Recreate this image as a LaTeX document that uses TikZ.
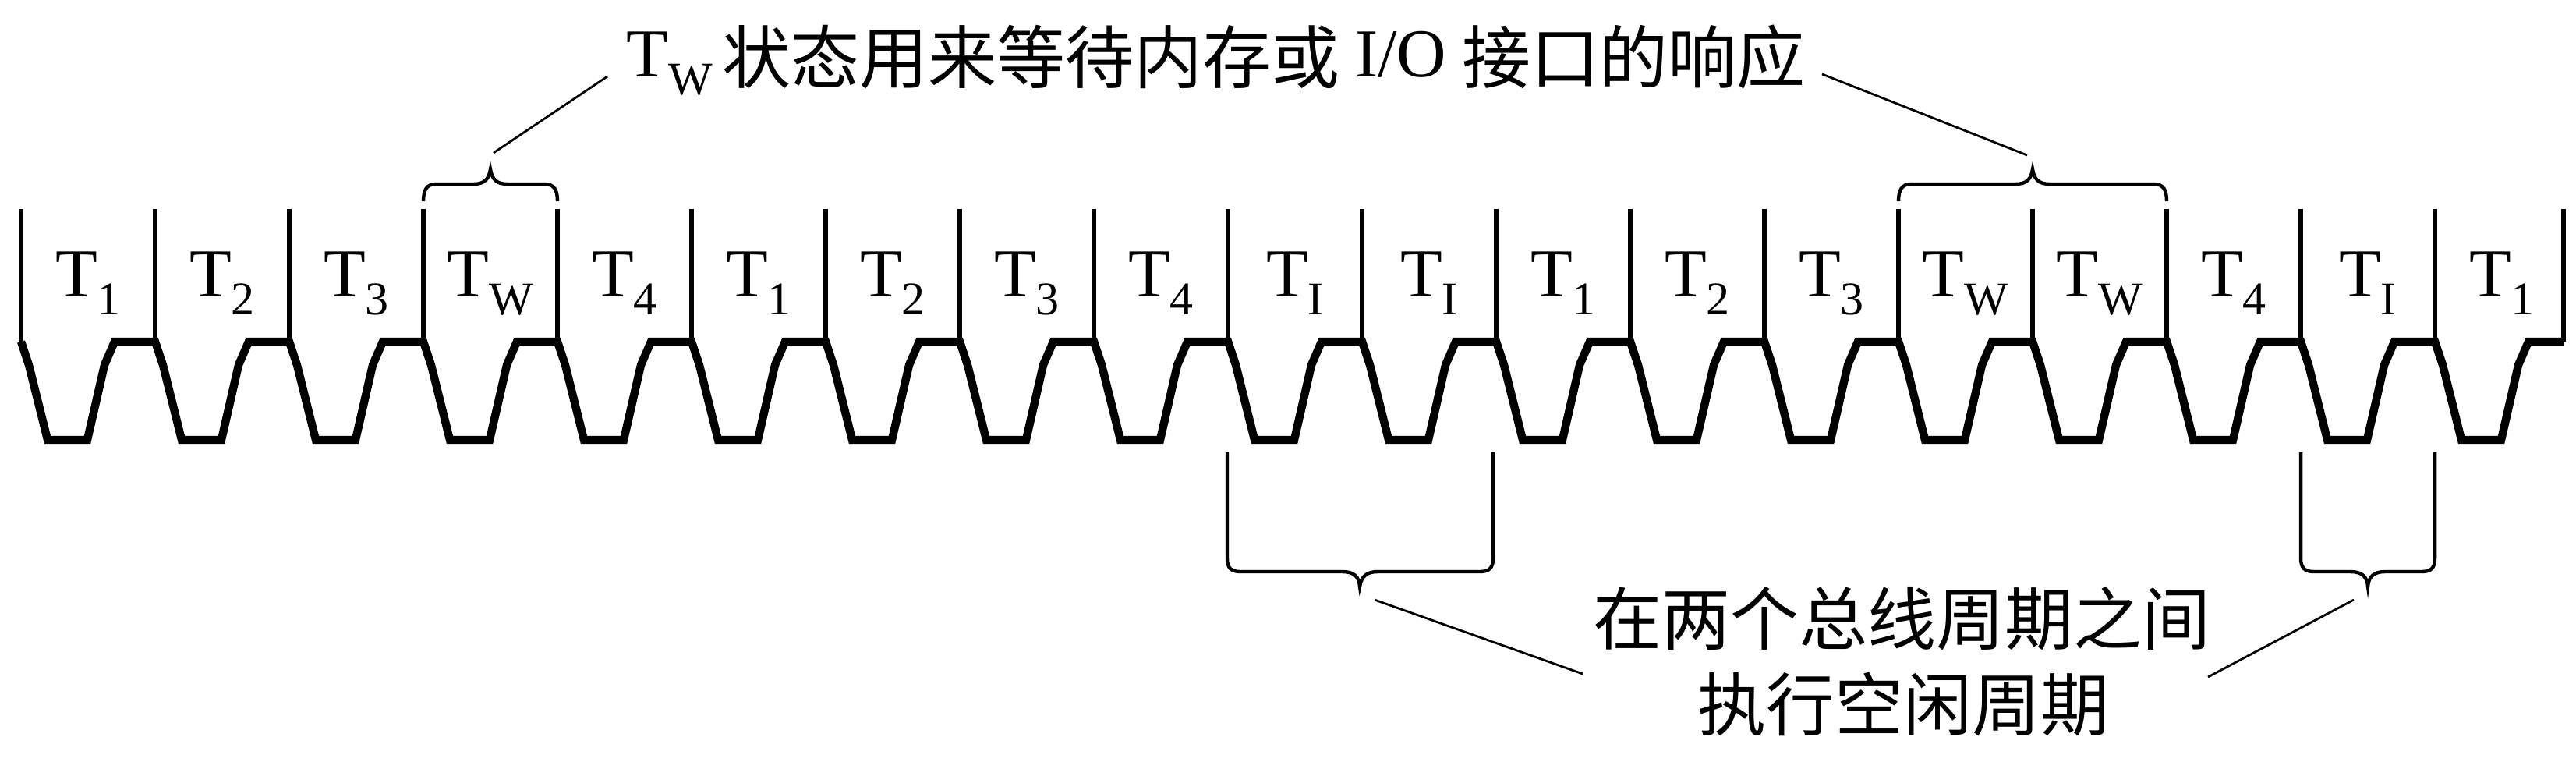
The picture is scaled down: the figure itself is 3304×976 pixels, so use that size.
\documentclass[tikz,border=0pt]{standalone}
\usepackage{fontspec}
\setmainfont{Liberation Serif}
\newfontfamily\cjk{Noto Sans CJK SC}
\newcommand{\Tsub}[1]{T\raisebox{-5.75pt}{\fontsize{15pt}{15pt}\selectfont #1}}
\newcommand{\cjkdown}[1]{{\cjk\raisebox{-2pt}{#1}}}
\begin{document}
\begin{tikzpicture}[x=0.25pt,y=-0.25pt,
  wave/.style={line width=2.6pt,line join=miter},
  vline/.style={line width=1.7pt},
  brace/.style={line width=1.1pt},
  leader/.style={line width=0.7pt},
  cell label/.style={anchor=base,inner sep=0pt,font=\fontsize{22pt}{26pt}\selectfont},
  note/.style={inner sep=0pt,font=\fontsize{22pt}{26pt}\selectfont}]
\useasboundingbox (0,0) rectangle (3304,976);
% vertical cell separators and labels
\foreach \s [count=\i from 0] in {1,2,3,W,4,1,2,3,4,I,I,1,2,3,W,W,4,I,1} {
  \pgfmathsetmacro\xa{27+172*\i}
  \draw[vline] (\xa,268) -- (\xa,438);
  \node[cell label] (cell\i) at (\xa+86,380) {\Tsub{\s}};
}
\draw[vline] (3288,268) -- (3288,438);
% clock waveform
\draw[wave] (27,438) \foreach \i in {0,...,17}{ -- ++(10,30) -- ++(24,96) -- ++(51,0) -- ++(22,-96) -- ++(13,-30) -- ++(52,0) }
  -- ++(10,30) -- ++(24,96) -- ++(51,0) -- ++(22,-96) -- ++(13,-30) -- ++(45,0);
% top braces
\draw[brace] (543,258) .. controls (543,244) and (547,236) .. (559,236) -- (607,236) .. controls (621,236) and (627,230) .. (629,217) .. controls (631,230) and (637,236) .. (651,236) -- (699,236) .. controls (711,236) and (715,244) .. (715,258);
\draw[brace] (2435,258) .. controls (2435,244) and (2439,236) .. (2451,236) -- (2585,236) .. controls (2599,236) and (2605,230) .. (2607,217) .. controls (2609,230) and (2615,236) .. (2629,236) -- (2763,236) .. controls (2775,236) and (2779,244) .. (2779,258);
% bottom braces
\draw[brace] (1574,580) -- (1574,716) .. controls (1574,728) and (1579,733) .. (1591,733) -- (1722,733) .. controls (1736,733) and (1743,739) .. (1744,752) .. controls (1746,739) and (1753,733) .. (1767,733) -- (1898,733) .. controls (1910,733) and (1915,728) .. (1915,716) -- (1915,580);
\draw[brace] (2951,580) -- (2951,716) .. controls (2951,728) and (2956,733) .. (2968,733) -- (3015,733) .. controls (3029,733) and (3036,739) .. (3037,752) .. controls (3038,739) and (3045,733) .. (3059,733) -- (3106,733) .. controls (3118,733) and (3123,728) .. (3123,716) -- (3123,580);
% texts
\node[note,anchor=base west] (toptext) at (803,98) {\Tsub{W}\hspace{3pt}\cjkdown{状态用来等待内存或}\hspace{5pt}I/O\hspace{5pt}\cjkdown{接口的响应}};
\node[note,anchor=base] (bot1) at (2439,826) {\cjk 在两个总线周期之间};
\node[note,anchor=base] (bot2) at (2441,936) {\cjk 执行空闲周期};
% leader line end points
\coordinate (l1a) at (633,196);
\coordinate (l1b) at (779,98);
\coordinate (r1a) at (2600,199);
\coordinate (r1b) at (2337,95);
\coordinate (l2a) at (1763,769);
\coordinate (l2b) at (2030,864);
\coordinate (r2a) at (3019,769);
\coordinate (r2b) at (2832,868);
\draw[leader] (l1a) -- (l1b);
\draw[leader] (r1a) -- (r1b);
\draw[leader] (l2a) -- (l2b);
\draw[leader] (r2a) -- (r2b);
\end{tikzpicture}
\end{document}
